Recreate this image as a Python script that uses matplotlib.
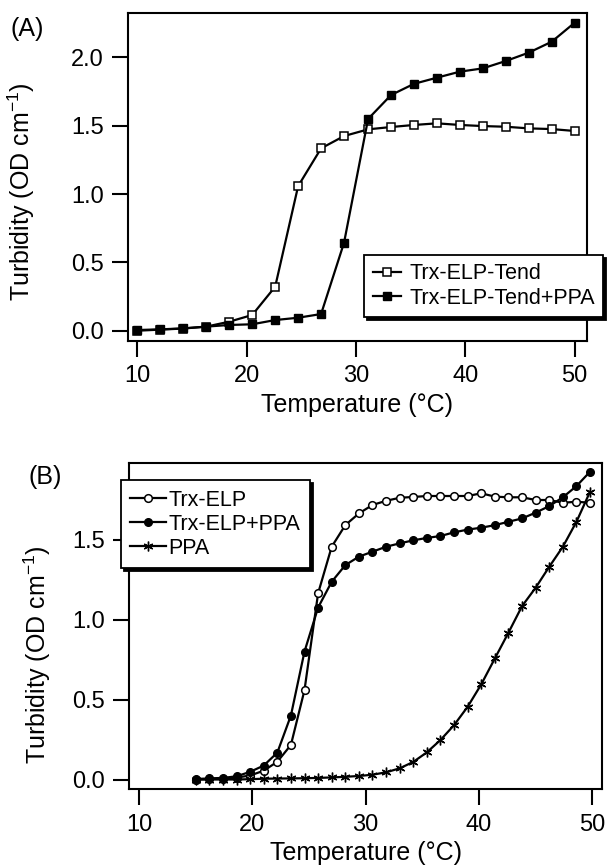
import matplotlib
matplotlib.use("Agg")
import matplotlib.pyplot as plt
from matplotlib.ticker import FormatStrFormatter

plt.rcParams['font.family'] = ['Liberation Sans', 'DejaVu Sans']
plt.rcParams['mathtext.fontset'] = 'custom'
plt.rcParams['mathtext.rm'] = 'Liberation Sans'
plt.rcParams['mathtext.it'] = 'Liberation Sans:italic'

# Panel A data
temp_a = [10.0, 12.1, 14.2, 16.3, 18.4, 20.5, 22.6, 24.7, 26.8, 28.9,
          31.1, 33.2, 35.3, 37.4, 39.5, 41.6, 43.7, 45.8, 47.9, 50.0]
tend = [0.0, 0.008, 0.016, 0.03, 0.066, 0.115, 0.322, 1.058, 1.334, 1.424,
        1.473, 1.49, 1.505, 1.517, 1.505, 1.497, 1.492, 1.48, 1.475, 1.461]
tend_ppa = [0.005, 0.01, 0.017, 0.03, 0.042, 0.047, 0.078, 0.095, 0.122, 0.644,
            1.549, 1.724, 1.806, 1.851, 1.895, 1.919, 1.973, 2.034, 2.114, 2.253]

# Panel B data
temp_b = [15.0, 16.2, 17.4, 18.6, 19.8, 21.0, 22.2, 23.4, 24.6, 25.8,
          27.0, 28.2, 29.4, 30.6, 31.8, 33.0, 34.2, 35.4, 36.6, 37.8,
          39.0, 40.2, 41.4, 42.6, 43.8, 45.0, 46.2, 47.4, 48.6, 49.8]
elp = [0.0, 0.003, 0.006, 0.012, 0.025, 0.055, 0.111, 0.216, 0.559, 1.164,
       1.455, 1.59, 1.663, 1.716, 1.742, 1.761, 1.766, 1.772, 1.772, 1.772,
       1.772, 1.789, 1.768, 1.764, 1.764, 1.747, 1.747, 1.73, 1.736, 1.73]
elp_ppa = [0.003, 0.007, 0.01, 0.02, 0.048, 0.087, 0.168, 0.40, 0.80, 1.075,
           1.236, 1.34, 1.393, 1.424, 1.455, 1.476, 1.495, 1.51, 1.522, 1.545,
           1.562, 1.574, 1.59, 1.611, 1.632, 1.668, 1.709, 1.764, 1.834, 1.924]
ppa = [0.0, 0.0, 0.0, 0.0, 0.002, 0.005, 0.006, 0.007, 0.008, 0.01,
       0.013, 0.017, 0.022, 0.03, 0.045, 0.07, 0.11, 0.17, 0.247, 0.34,
       0.455, 0.595, 0.757, 0.918, 1.084, 1.199, 1.33, 1.455, 1.611, 1.799]

xticks = [10, 20, 30, 40, 50]
yticks_a = [0.0, 0.5, 1.0, 1.5, 2.0]
yticks_b = [0.0, 0.5, 1.0, 1.5]

xlabel = "Temperature (°C)"
ylabel = "Turbidity (OD cm$^{-1}$)"

fig = plt.figure(figsize=(6.1, 8.68), dpi=100)
ax_a = fig.add_axes([0.2103, 0.6075, 0.7515, 0.3772])
ax_b = fig.add_axes([0.2120, 0.0907, 0.7750, 0.3762])


def style_axes(ax, yticks):
    for s in ax.spines.values():
        s.set_linewidth(1.5)
    ax.set_xticks(xticks)
    ax.set_yticks(yticks)
    ax.yaxis.set_major_formatter(FormatStrFormatter('%.1f'))
    ax.tick_params(direction='out', length=11.5, width=1.5, labelsize=17,
                   pad=6)


lw = 1.6

# Panel A
ax_a.plot(temp_a, tend, '-s', color='black', lw=lw, ms=6, mfc='white',
          mec='black', mew=1.1, label='Trx-ELP-Tend', zorder=2)
ax_a.plot(temp_a, tend_ppa, '-s', color='black', lw=lw, ms=6, mfc='black',
          mec='black', label='Trx-ELP-Tend+PPA', zorder=3)
ax_a.set_xlim(9.16, 51.1)
ax_a.set_ylim(-0.073, 2.322)
style_axes(ax_a, yticks_a)
ax_a.set_xlabel(xlabel, fontsize=18, va='center')
ax_a.xaxis.set_label_coords(0.5, -0.196)
ax_a.set_ylabel(ylabel, fontsize=18, va='center')
ax_a.yaxis.set_label_coords(-0.234, 0.454)
leg_a = ax_a.legend(loc='lower left', bbox_to_anchor=(0.514, 0.072),
                    borderaxespad=0, fontsize=15.5, frameon=True, fancybox=False,
                    edgecolor='black', framealpha=1, numpoints=1,
                    handlelength=1.3, handletextpad=0.4, labelspacing=0.14,
                    borderpad=0.4, shadow={'color': 'black', 'alpha': 1})
leg_a.get_frame().set_linewidth(1.3)

# Panel B
ax_b.plot(temp_b, elp, '-o', color='black', lw=lw, ms=5.5, mfc='white',
          mec='black', mew=1.1, label='Trx-ELP', zorder=2)
ax_b.plot(temp_b, elp_ppa, '-o', color='black', lw=lw, ms=5.5, mfc='black',
          mec='black', label='Trx-ELP+PPA', zorder=3)
ax_b.plot(temp_b, ppa, '-', color='black', lw=lw, marker=(6, 2, 0), ms=7,
          mec='black', mew=1.0, label='PPA', zorder=2)
ax_b.set_xlim(9.14, 50.86)
ax_b.set_ylim(-0.061, 1.98)
style_axes(ax_b, yticks_b)
ax_b.set_xlabel(xlabel, fontsize=18, va='center')
ax_b.xaxis.set_label_coords(0.5, -0.195)
ax_b.set_ylabel(ylabel, fontsize=18, va='center')
ax_b.yaxis.set_label_coords(-0.195, 0.411)
leg_b = ax_b.legend(loc='upper left', bbox_to_anchor=(-0.018, 0.947),
                    borderaxespad=0, fontsize=15.5, frameon=True, fancybox=False,
                    edgecolor='black', framealpha=1, numpoints=1,
                    handlelength=1.65, handletextpad=0.12, labelspacing=0.14,
                    borderpad=0.45, shadow={'color': 'black', 'alpha': 1})
leg_b.get_frame().set_linewidth(1.3)

fig.text(0.045, 0.9666, "(A)", fontsize=18, ha='center', va='center')
fig.text(0.0745, 0.4505, "(B)", fontsize=18, ha='center', va='center')

fig.savefig("out.png", dpi=100)
